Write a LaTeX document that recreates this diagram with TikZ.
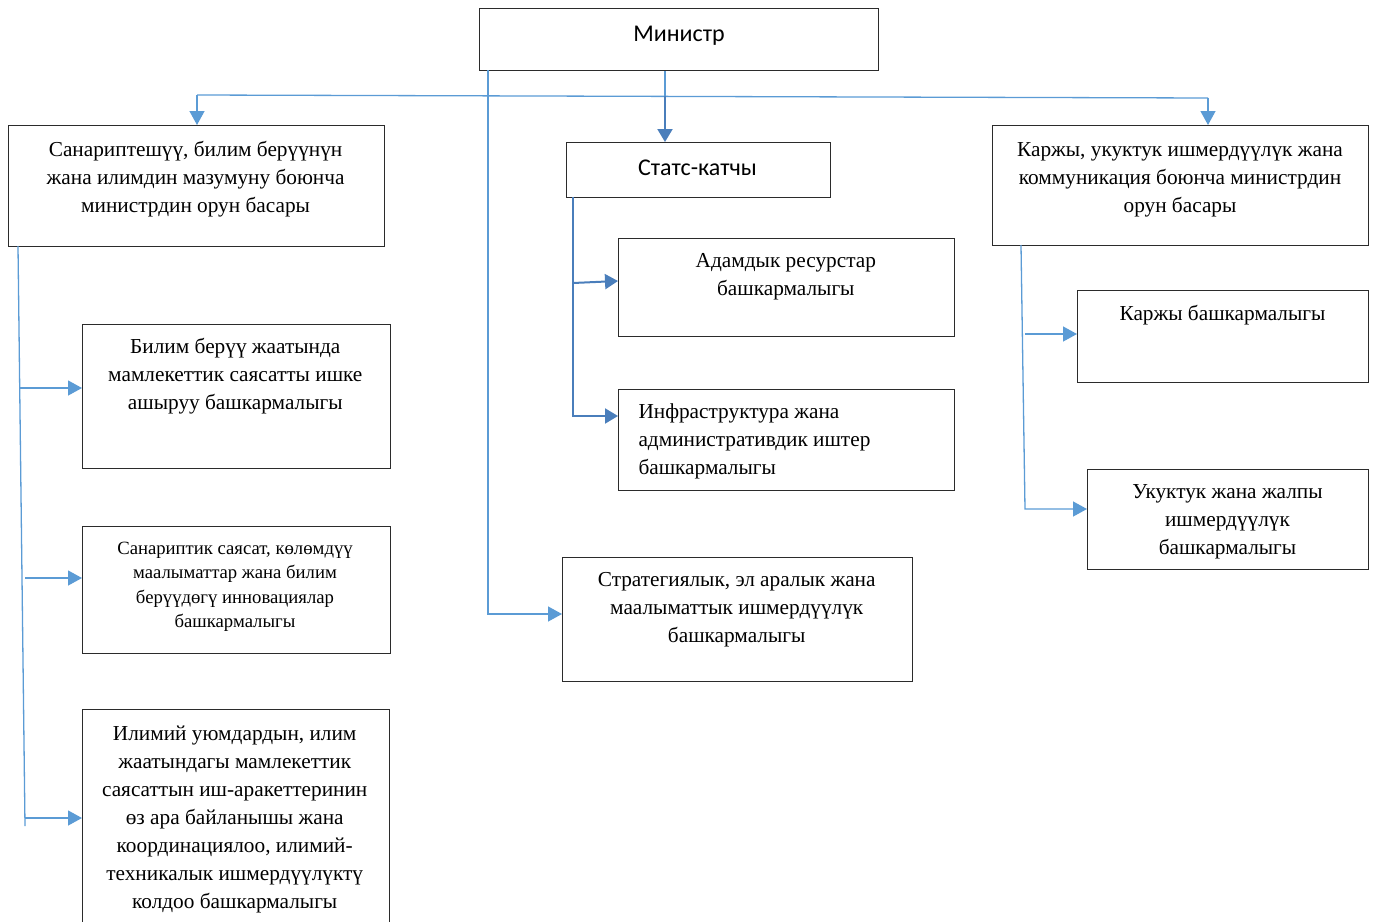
\documentclass[tikz,border=0pt]{standalone}
\usepackage{fontspec}
\setmainfont{Liberation Serif}
\newfontfamily\calibfont{Carlito}
\usetikzlibrary{arrows.meta,calc}
\definecolor{lb}{HTML}{5B9BD5}
\definecolor{db}{HTML}{4A7EBB}
\definecolor{bx}{HTML}{2B2B2B}
\newcommand\mytc[1]{\begin{tabular}[t]{@{}c@{}}#1\end{tabular}}
\newcommand\mytl[1]{\begin{tabular}[t]{@{}l@{}}#1\end{tabular}}
\begin{document}
\begin{tikzpicture}[x=1pt,y=-1pt,
  box/.style={draw=bx,line width=1.3pt,inner sep=0pt,anchor=north west},
  txt/.style={inner sep=0pt,anchor=base,font=\fontsize{21.3}{28}\selectfont},
  stxt/.style={inner sep=0pt,anchor=base,font=\fontsize{18.7}{24.4}\selectfont},
  sans/.style={inner sep=0pt,anchor=base,font=\calibfont\fontsize{24}{28}\selectfont},
  lline/.style={draw=lb,line width=1.3pt},
  larr/.style={draw=lb,line width=1.3pt,-{Triangle[length=14pt,width=15pt,color=lb]}},
  darr/.style={draw=db,line width=2pt,-{Triangle[length=13pt,width=15pt,color=db]}},
  dline/.style={draw=db,line width=2pt}]
\useasboundingbox (0,0) rectangle (1376,921);

% boxes
\node[box,minimum width=399pt,minimum height=62pt] (min) at (479,8) {};
\node[box,minimum width=376pt,minimum height=121pt] (dep1) at (8,125) {};
\node[box,minimum width=264pt,minimum height=55pt] (stat) at (566,142) {};
\node[box,minimum width=376pt,minimum height=120pt] (dep2) at (992,125) {};
\node[box,minimum width=308pt,minimum height=144pt] (b1) at (82,324) {};
\node[box,minimum width=308pt,minimum height=127pt] (b2) at (82,526) {};
\node[box,minimum width=307pt,minimum height=230pt] (b3) at (82,709) {};
\node[box,minimum width=336pt,minimum height=98pt] (hr) at (618,238) {};
\node[box,minimum width=336pt,minimum height=101pt] (inf) at (618,389) {};
\node[box,minimum width=350pt,minimum height=124pt] (str) at (562,557) {};
\node[box,minimum width=291pt,minimum height=92pt] (fin) at (1077,290) {};
\node[box,minimum width=281pt,minimum height=100pt] (law) at (1087,469) {};

% texts
\node[sans] (tmin) at (679,41.5) {Министр};
\node[sans] (tstat) at (697.5,175) {Статс-катчы};
\node[txt] (tdep1) at (195.6,156.5) {\mytc{Санариптешүү, билим берүүнүн\\жана илимдин мазумуну боюнча\\министрдин орун басары}};
\node[txt] (tdep2) at (1180,156) {\mytc{Каржы, укуктук ишмердүүлүк жана\\коммуникация боюнча министрдин\\орун басары}};
\node[txt] (tfin) at (1222.5,320) {\mytc{Каржы башкармалыгы}};
\node[txt] (tlaw) at (1227.5,498.5) {\mytc{Укуктук жана жалпы\\ишмердүүлүк\\башкармалыгы}};
\node[txt] (thr) at (785.8,267.5) {\mytc{Адамдык ресурстар\\башкармалыгы}};
\node[txt,anchor=base west] (tinf) at (638.3,418.5) {\mytl{Инфраструктура жана\\административдик иштер\\башкармалыгы}};
\node[txt] (tstr) at (736.7,586.8) {\mytc{Стратегиялык, эл аралык жана\\маалыматтык ишмердүүлүк\\башкармалыгы}};
\node[txt] (tb1) at (235.3,353.5) {\mytc{Билим берүү жаатында\\мамлекеттик саясатты ишке\\ашыруу башкармалыгы}};
\node[stxt] (tb2) at (235,554.5) {\mytc{Санариптик саясат, көлөмдүү\\маалыматтар жана билим\\берүүдөгү инновациялар\\башкармалыгы}};
\node[txt] (tb3) at (234.7,740.7) {\mytc{Илимий уюмдардын, илим\\жаатындагы мамлекеттик\\саясаттын иш-аракеттеринин\\өз ара байланышы жана\\координациялоо, илимий-\\техникалык ишмердүүлүктү\\колдоо башкармалыгы}};

% connectors from Ministr
\coordinate (j1) at (197,95);
\coordinate (j2) at (1208,98);
\coordinate (jm) at (665,96);
\draw[lline] (j1) -- (j2);
\draw[larr] (j1) -- (j1 |- dep1.north);
\draw[larr] (j2) -- (j2 |- dep2.north);
\draw[lline] (min.south -| jm) -- (jm);
\draw[darr] (jm) -- (jm |- stat.north);
\coordinate (ms) at (488,70);
\coordinate (me) at (488,614);
\draw[larr] (ms) -- (me) -- (str.west |- me);

% left branch
\coordinate (l0) at (18,246);
\coordinate (l3) at (25,826);
\draw[lline] (l0) -- (l3);
\draw[larr] (20,388) -- (b1.west |- 0,388);
\draw[larr] (25,578) -- (b2.west |- 0,578);
\draw[larr] (25,818) -- (b3.west |- 0,818);

% Stats-katchy branch
\coordinate (s0) at (573,197);
\coordinate (s1) at (573,416);
\draw[darr] (s0) -- (s1) -- (inf.west |- s1);
\draw[darr] (573,283) -- (hr.west |- 0,281);

% right branch
\coordinate (r0) at (1021,245);
\coordinate (r1) at (1025,509);
\draw[larr] (r0) -- (r1) -- (law.west |- r1);
\draw[larr] (1025,334) -- (fin.west |- 0,334);
\end{tikzpicture}
\end{document}
